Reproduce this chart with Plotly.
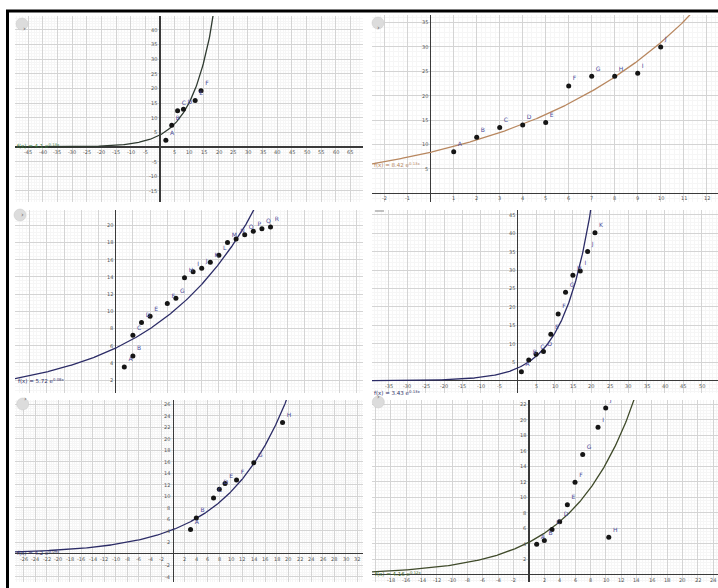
import numpy as np
import plotly.graph_objects as go

W, H = 718, 588

# ---------------- data ----------------
p1_labels = ["A", "B", "C", "D", "E", "F"]
p1_x = [2, 4, 6, 8, 12, 14]
p1_y = [2.3, 7.4, 12.4, 12.9, 15.9, 19.2]
p1_fit = [4.1, 0.131]

p2_labels = ["A", "B", "C", "D", "E", "F", "G", "H", "I", "J"]
p2_x = [1, 2, 3, 4, 5, 6, 7, 8, 9, 10]
p2_y = [8.5, 11.5, 13.5, 14.0, 14.5, 22.0, 24.0, 24.0, 24.6, 30.0]
p2_fit = [8.42, 0.13]

p3_labels = ["A", "B", "C", "D", "E", "F", "G", "H", "I", "J", "K", "L", "M", "N", "O", "P", "Q", "R"]
p3_x = [1, 2, 2, 3, 4, 6, 7, 8, 9, 10, 11, 12, 13, 14, 15, 16, 17, 18]
p3_y = [3.5, 4.8, 7.2, 8.7, 9.4, 10.9, 11.5, 13.9, 14.6, 15.0, 15.7, 16.5, 18.0, 18.4, 18.9, 19.3, 19.6, 19.8]
p3_fit = [5.72, 0.083]

p4_labels = ["A", "B", "C", "D", "E", "F", "G", "H", "I", "J", "K"]
p4_x = [1, 3, 5, 7, 9, 11, 13, 15, 17, 19, 21]
p4_y = [2.4, 5.6, 7.2, 7.9, 12.6, 18.1, 24.0, 28.6, 29.7, 35.0, 40.1]
p4_fit = [3.43, 0.131]

p5_labels = ["A", "B", "C", "D", "E", "F", "G", "H"]
p5_x = [3, 4, 7, 8, 9, 11, 14, 19]
p5_y = [4.2, 6.2, 9.7, 11.2, 12.2, 12.8, 15.8, 22.8]
p5_fit = [4.2, 0.094]

p6_labels = ["A", "B", "C", "D", "E", "F", "G", "I", "J", "H"]
p6_x = [1, 2, 3, 4, 5, 6, 7, 9, 10, 10.4]
p6_y = [3.9, 4.4, 5.8, 6.8, 9.0, 11.9, 15.5, 19.0, 21.5, 4.8]
p6_fit = [4.16, 0.123]

formulas = [
    "f(x) = 4.1 e<sup>0.13x</sup>",
    "f(x) = 8.42 e<sup>0.13x</sup>",
    "f(x) = 5.72 e<sup>0.08x</sup>",
    "f(x) = 3.43 e<sup>0.13x</sup>",
    "f(x) = 4.2 e<sup>0.09x</sup>",
    "f(x) = 4.16 e<sup>0.12x</sup>",
]

# ---------------- layout of the six screenshots (pixels) ----------------
# box (x0, x1, y0, y1), origin (ox, oy), scale (sx, sy), tick step (dx, dy)
panels = [
    dict(box=(15, 363, 16, 202), org=(160, 147), sc=(2.93, 2.93), dt=(5, 5),
         data=(p1_x, p1_y, p1_labels, p1_fit), color="#2f3a30", fcol="#3d7a3d",
         fpos=(16, 146), btn=(22, 24)),
    dict(box=(372, 718, 15, 202), org=(430.7, 193.3), sc=(23.0, 4.88), dt=(1, 5),
         data=(p2_x, p2_y, p2_labels, p2_fit), color="#b8875f", fcol="#b8875f",
         fpos=(373, 164), btn=(378, 23)),
    dict(box=(15, 363, 210, 393), org=(115.7, 397.2), sc=(8.6, 8.6), dt=(2, 2),
         data=(p3_x, p3_y, p3_labels, p3_fit), color="#2b2b66", fcol="#2b2b66",
         fpos=(17, 380), btn=(20, 215)),
    dict(box=(372, 718, 210, 393), org=(517.7, 380.7), sc=(3.68, 3.69), dt=(5, 5),
         data=(p4_x, p4_y, p4_labels, p4_fit), color="#2b2b66", fcol="#2b2b66",
         fpos=(373, 392), btn=None),
    dict(box=(15, 363, 400, 582), org=(173.3, 553.7), sc=(5.75, 5.75), dt=(2, 2),
         data=(p5_x, p5_y, p5_labels, p5_fit), color="#2b2b66", fcol="#2b2b66",
         fpos=(16, 552), btn=(22.7, 404)),
    dict(box=(372, 718, 400, 582), org=(529, 574.5), sc=(7.67, 7.75), dt=(2, 2),
         data=(p6_x, p6_y, p6_labels, p6_fit), color="#3f4a2a", fcol="#3f6a2a",
         fpos=(374, 573), btn=(378.3, 402)),
]

fig = go.Figure()
annotations = []
shapes = []
FONT = "DejaVu Sans"
TICKFONT = dict(size=5, color="#555", family=FONT)

for i, p in enumerate(panels, start=1):
    x0, x1, y0, y1 = p["box"]
    ox, oy = p["org"]
    sx, sy = p["sc"]
    dx, dy = p["dt"]
    xr = [(x0 - ox) / sx, (x1 - ox) / sx]
    yr = [(oy - y1) / sy, (oy - y0) / sy]
    sfx = "" if i == 1 else str(i)
    xa, ya = "x" + sfx, "y" + sfx
    axis_common = dict(
        showticklabels=False, ticks="", showline=False,
        showgrid=True, gridcolor="#d4d4d4", gridwidth=1,
        zeroline=True, zerolinecolor="#3a3a3a", zerolinewidth=1.4,
        fixedrange=True,
    )
    fig.update_layout(**{
        "xaxis" + sfx: dict(axis_common, domain=[x0 / W, x1 / W], range=xr, dtick=dx, tick0=0,
                            anchor=ya, minor=dict(dtick=dx / 5, showgrid=True, gridcolor="#f6f6f6")),
        "yaxis" + sfx: dict(axis_common, domain=[1 - y1 / H, 1 - y0 / H], range=yr, dtick=dy, tick0=0,
                            anchor=xa, minor=dict(dtick=dy / 5, showgrid=True, gridcolor="#f6f6f6")),
    })

    xs, ys, labs, fit = p["data"]
    a, b = fit
    cx = np.linspace(xr[0], xr[1], 600)
    cy = a * np.exp(b * cx)
    cy = np.where(cy > yr[1] * 1.5, np.nan, cy)
    fig.add_trace(go.Scatter(x=cx, y=cy, mode="lines", xaxis=xa, yaxis=ya,
                             line=dict(color=p["color"], width=1.3), hoverinfo="skip",
                             showlegend=False, connectgaps=False))
    fig.add_trace(go.Scatter(x=xs, y=ys, mode="markers+text", text=labs, xaxis=xa, yaxis=ya,
                             textposition="top right",
                             textfont=dict(size=6, color="#4b4b9a", family=FONT),
                             marker=dict(size=5, color="#151515"), showlegend=False))

    # axis numbers, GeoGebra style (along the axes)
    xaxis_visible = yr[0] < 0 < yr[1]
    yaxis_visible = xr[0] < 0 < xr[1]
    if xaxis_visible:
        v = np.ceil(xr[0] / dx) * dx
        while v < xr[1]:
            if abs(v) > 1e-9 and (v - xr[0]) * sx > 6 and (xr[1] - v) * sx > 4:
                annotations.append(dict(x=v, y=0, xref=xa, yref=ya, text=f"{v:g}", showarrow=False,
                                        yanchor="top", yshift=-1, borderpad=0, font=TICKFONT))
            v += dx
    if yaxis_visible:
        v = np.ceil(yr[0] / dy) * dy
        while v < yr[1]:
            if abs(v) > 1e-9 and (v - yr[0]) * sy > 3 and (yr[1] - v) * sy > 2:
                annotations.append(dict(x=0, y=v, xref=xa, yref=ya, text=f"{v:g}", showarrow=False,
                                        xanchor="right", xshift=-2, borderpad=0, font=TICKFONT))
            v += dy

    # function label
    fx, fy = p["fpos"]
    annotations.append(dict(x=fx / W, y=1 - fy / H, xref="paper", yref="paper", text=formulas[i - 1],
                            showarrow=False, xanchor="left", yanchor="middle", borderpad=0,
                            font=dict(size=5.5, color=p["fcol"], family=FONT)))

    # GeoGebra style-bar toggle button
    if p["btn"] is not None:
        bx, by = p["btn"]
        r = 6
        shapes.append(dict(type="circle", xref="paper", yref="paper",
                           x0=(bx - r) / W, x1=(bx + r) / W,
                           y0=1 - (by + r) / H, y1=1 - (by - r) / H,
                           fillcolor="#dcdcdc", line=dict(color="#c8c8c8", width=0.5)))
        annotations.append(dict(x=bx / W, y=1 - by / H, xref="paper", yref="paper", text="›",
                                showarrow=False, borderpad=0,
                                font=dict(size=7, color="#666", family=FONT)))
    else:
        x0p, y0p = p["box"][0], p["box"][2]
        shapes.append(dict(type="line", xref="paper", yref="paper",
                           x0=(x0p + 3) / W, x1=(x0p + 12) / W, y0=1 - (y0p + 1) / H, y1=1 - (y0p + 1) / H,
                           line=dict(color="#9a9a9a", width=1.2)))

# black frame (top and left edges of the composite)
shapes.append(dict(type="line", xref="paper", yref="paper", x0=6 / W, x1=1.0,
                   y0=1 - 11 / H, y1=1 - 11 / H, line=dict(color="#000", width=3)))
shapes.append(dict(type="line", xref="paper", yref="paper", x0=7.5 / W, x1=7.5 / W,
                   y0=0, y1=1 - 10 / H, line=dict(color="#000", width=3)))

fig.update_layout(
    width=W, height=H,
    margin=dict(l=0, r=0, t=0, b=0),
    paper_bgcolor="white", plot_bgcolor="white",
    showlegend=False, hovermode=False,
    annotations=annotations, shapes=shapes,
    font=dict(family=FONT),
)

fig.write_html("out.html", config={"displayModeBar": False, "staticPlot": True},
               post_script="document.body.style.margin='0';document.body.style.overflow='hidden';")
